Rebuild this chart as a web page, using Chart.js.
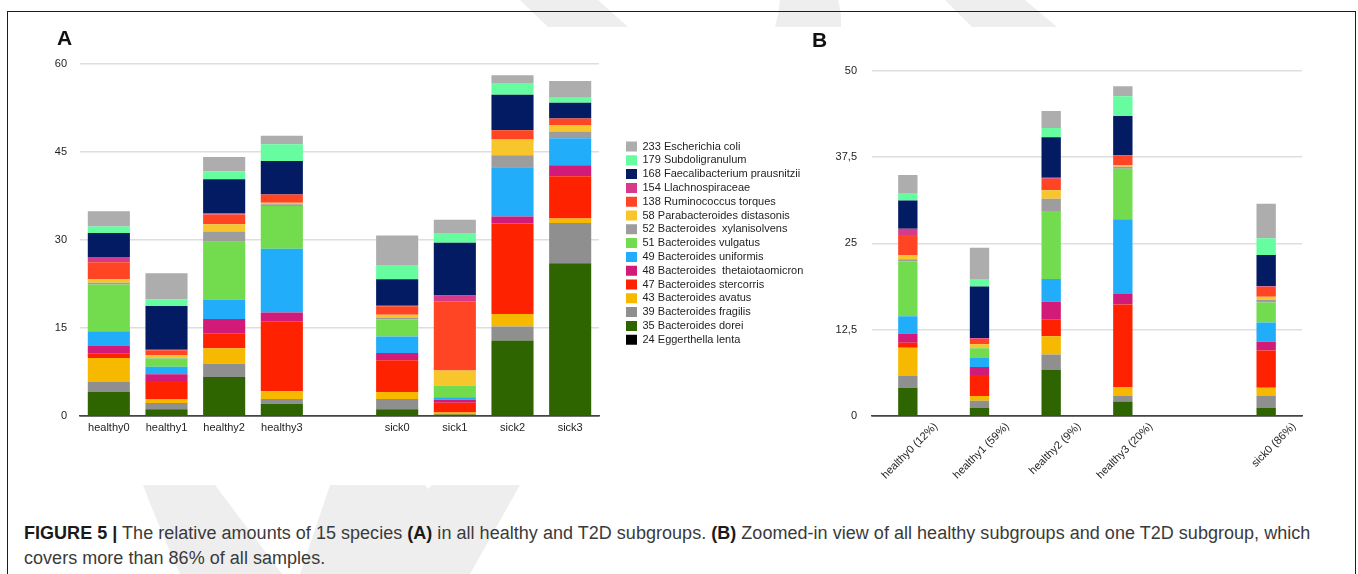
<!DOCTYPE html>
<html><head><meta charset="utf-8">
<script src="https://cdn.jsdelivr.net/npm/chart.js@4.4.1/dist/chart.umd.min.js"></script>
<style>
html,body{margin:0;padding:0;background:#fff;width:1358px;height:574px;overflow:hidden;font-family:"Liberation Sans",Arial,Helvetica,sans-serif;}
#wm{position:absolute;left:0;top:0;}
#frame{position:absolute;left:7px;top:10.5px;width:1349px;height:700px;border:1.5px solid #1c1c1c;box-sizing:border-box;}
.panel{position:absolute;}
#wrapA{left:20px;top:27px;width:800px;height:458px;}
#wrapB{left:820px;top:27px;width:530px;height:458px;}
.lbl{position:absolute;font-weight:bold;font-size:21px;line-height:21px;color:#111;}
#caption{position:absolute;left:24px;top:521px;font-size:18px;line-height:25px;letter-spacing:0.03px;color:#3a3a3a;white-space:nowrap;}
#caption b{color:#1a1a1a;}
</style></head>
<body>
<svg id="wm" width="1358" height="574">
  <g fill="#eeeeee">
    <polygon points="520,0 598,0 628,27 548,27"/>
    <path d="M780,0 L838,0 Q842,14 841,27 L775,27 Q779,14 780,0 Z"/>
    <polygon points="945,0 1025,0 1057,27 972,27"/>
    <path d="M143,485 L215,485 L282,574 L180,574 Q160,530 143,485 Z"/>
    <polygon points="330,485 425,485 428,489 432,485 520,485 470,574 300,574"/>
  </g>
</svg>
<div id="frame"></div>
<div class="panel" id="wrapA"><canvas id="chartA" width="800" height="458"></canvas></div>
<div class="panel" id="wrapB"><canvas id="chartB" width="530" height="458"></canvas></div>
<div class="lbl" style="left:57px;top:27px;">A</div>
<div class="lbl" style="left:812px;top:29px;">B</div>
<div id="caption"><b>FIGURE 5 |</b> The relative amounts of 15 species <b>(A)</b> in all healthy and T2D subgroups. <b>(B)</b> Zoomed-in view of all healthy subgroups and one T2D subgroup, which<br>covers more than 86% of all samples.</div>
<script>
// ---- data ----
const samples = ["healthy0","healthy1","healthy2","healthy3","sick0","sick1","sick2","sick3"];
const labelsA = ["healthy0","healthy1","healthy2","healthy3","","sick0","sick1","sick2","sick3"];
const labelsB = ["healthy0 (12%)","healthy1 (59%)","healthy2 (9%)","healthy3 (20%)","","sick0 (86%)"];
const ticksA = [0,15,30,45,60];
const ticksB = [0,12.5,25,37.5,50];

// species, stacked bottom -> top
const speciesNames = ["24 Eggerthella lenta","35 Bacteroides dorei","39 Bacteroides fragilis","43 Bacteroides avatus",
  "47 Bacteroides stercorris","48 Bacteroides  thetaiotaomicron","49 Bacteroides uniformis","51 Bacteroides vulgatus",
  "52 Bacteroides  xylanisolvens","58 Parabacteroides distasonis","138 Ruminococcus torques","154 Llachnospiraceae",
  "168 Faecalibacterium prausnitzii","179 Subdoligranulum","233 Escherichia coli"];
const speciesColors = ["#000000","#2f6500","#8f8f90","#f6b900","#ff2200","#d21b78","#22adfb","#72dc4e",
  "#9d9d9e","#f7c52c","#ff4524","#d7398b","#021b63","#66fda0","#adadae"];

// values per sample: healthy0..3, sick0..3
const eggerthella   = [0,0,0,0,0,0,0,0];
const dorei         = [4.1,1.15,6.65,2.1,1.15,0.25,12.85,26.05];
const fragilis      = [1.7,1.05,2.25,0.8,1.75,0,2.4,6.85];
const avatus        = [4.1,0.7,2.65,1.3,1.2,0.35,2.15,0.75];
const stercorris    = [0.7,3.05,2.45,11.95,5.4,1.65,15.4,7.2];
const thetaiota     = [1.35,1.15,2.55,1.5,1.25,0.5,1.2,1.9];
const uniformis     = [2.5,1.3,3.3,10.85,2.8,0.45,8.4,4.6];
const vulgatus      = [7.95,1.4,9.85,7.3,2.9,2.0,0,0];
const xylanisolvens = [0.3,0.1,1.75,0.3,0.35,0,2.05,1.15];
const distasonis    = [0.6,0.5,1.25,0.25,0.45,2.55,2.7,1.1];
const torques       = [2.9,0.8,1.65,1.4,1.45,11.8,1.55,1.1];
const lachno        = [0.9,0.1,0.15,0,0.1,1.0,0,0];
const faecali       = [4.1,7.45,5.85,5.7,4.5,9.0,6.05,2.7];
const subdoli       = [1.1,1.1,1.35,2.85,2.45,1.65,2.0,0.85];
const ecoli         = [2.6,4.5,2.45,1.45,5.0,2.25,1.35,2.85];

const seriesValues = [eggerthella,dorei,fragilis,avatus,stercorris,thetaiota,uniformis,vulgatus,
  xylanisolvens,distasonis,torques,lachno,faecali,subdoli,ecoli];

// ---- charts ----
const FONT = '"Liberation Sans", Arial, Helvetica, sans-serif';
Chart.defaults.font.family = FONT;
Chart.defaults.color = '#222';

const legendPlace = {
  id: 'legendPlace',
  afterLayout(chart, args, opts) {
    const lg = chart.legend;
    if (!lg || !opts || opts.left == null) return;
    lg.left = opts.left; lg.width = opts.width; lg.right = opts.left + opts.width;
    lg.top = opts.top; lg.bottom = chart.height; lg.height = chart.height - opts.top;
  }
};

function dsA() {
  return seriesValues.map((vals, i) => ({
    label: speciesNames[i],
    data: [...vals.slice(0,4), null, ...vals.slice(4)],
    backgroundColor: speciesColors[i], borderColor: speciesColors[i], borderWidth: 0,
    barPercentage: 0.73, categoryPercentage: 1.0
  }));
}
function dsB() {
  return seriesValues.map((vals, i) => ({
    label: speciesNames[i],
    data: [...vals.slice(0,4), null, vals[4]],
    backgroundColor: speciesColors[i], borderColor: speciesColors[i], borderWidth: 0,
    barPercentage: 0.27, categoryPercentage: 1.0
  }));
}
const gridColor = (ctx) => ctx.tick && ctx.tick.value === 0 ? '#454545' : '#dedede';

new Chart(document.getElementById('chartA'), {
  type: 'bar',
  data: { labels: labelsA, datasets: dsA() },
  plugins: [legendPlace],
  options: {
    responsive: false, animation: false,
    layout: { padding: { left: 34, top: 37, right: 71, bottom: 39 } },
    plugins: {
      legend: { position: 'right', align: 'start', reverse: true, maxWidth: 150,
        labels: { boxWidth: 11, boxHeight: 10, padding: 2.8, color: '#1e1e1e', font: { size: 11, family: FONT } } },
      tooltip: { enabled: false },
      legendPlace: { left: 603.2, top: 111.2, width: 196 }
    },
    scales: {
      x: { stacked: true, grid: { display: false, drawTicks: false },
        border: { display: true, color: '#454545', width: 1.5 },
        ticks: { padding: 5, autoSkip: false, maxRotation: 0, color: '#1e1e1e', font: { size: 11 } },
        afterFit(s) { s.height = 30; } },
      y: { stacked: true, min: ticksA[0], max: ticksA[ticksA.length-1],
        afterBuildTicks(s) { s.ticks = ticksA.map(v => ({ value: v })); },
        grid: { color: gridColor, lineWidth: 1.5, drawTicks: false },
        border: { display: false },
        ticks: { padding: 13, color: '#1e1e1e', font: { size: 11 } },
        afterFit(s) { s.width = 26; } }
    }
  }
});

new Chart(document.getElementById('chartB'), {
  type: 'bar',
  data: { labels: labelsB, datasets: dsB() },
  options: {
    responsive: false, animation: false,
    layout: { padding: { left: 15, top: 43.7, right: 48, bottom: 0 } },
    plugins: { legend: { display: false }, tooltip: { enabled: false } },
    scales: {
      x: { stacked: true, grid: { display: false, drawTicks: false },
        border: { display: true, color: '#454545', width: 1.5 },
        ticks: { padding: 4, autoSkip: false, minRotation: 45, maxRotation: 45, labelOffset: 28, color: '#1e1e1e', font: { size: 11 } },
        afterFit(s) { s.height = 69; } },
      y: { stacked: true, min: ticksB[0], max: ticksB[ticksB.length-1],
        afterBuildTicks(s) { s.ticks = ticksB.map(v => ({ value: v })); },
        grid: { color: gridColor, lineWidth: 1.5, drawTicks: false },
        border: { display: false },
        ticks: { padding: 15, color: '#1e1e1e', font: { size: 11 },
          callback: (v) => String(v).replace('.', ',') },
        afterFit(s) { s.width = 37; } }
    }
  }
});
</script>
</body></html>
